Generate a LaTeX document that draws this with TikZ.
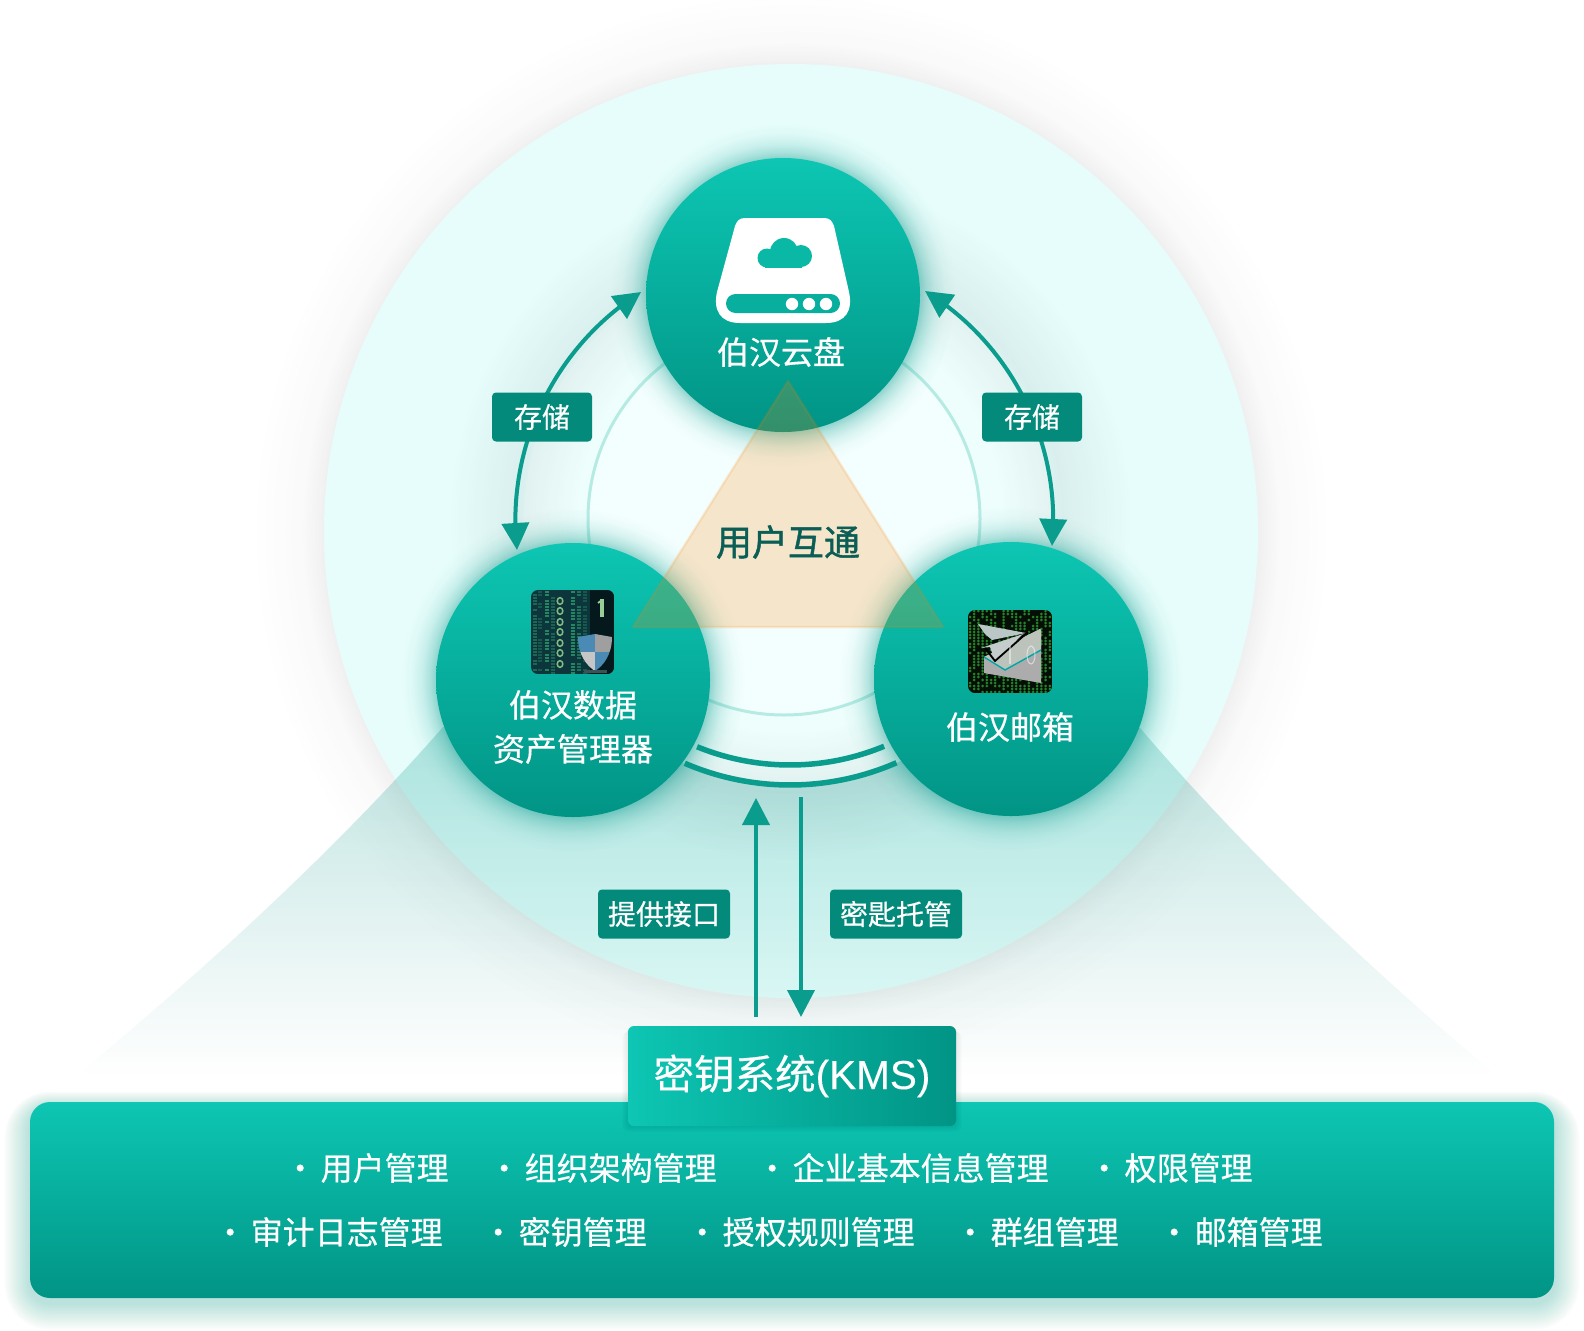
\documentclass[tikz,border=0pt]{standalone}
\usepackage{fontspec}
\setmainfont[FakeBold=0.45]{Noto Sans CJK SC}
\newfontfamily\titlefont[FakeBold=1.3]{Noto Sans CJK SC}
\newfontfamily\latinfont[FakeBold=0.15]{Liberation Sans}
\usetikzlibrary{fadings,arrows.meta,bending}
\definecolor{tealtop}{HTML}{0DC6B3}
\definecolor{tealbot}{HTML}{019485}
\definecolor{tealline}{HTML}{0A9C8C}
\definecolor{labelfill}{HTML}{038A7A}
\definecolor{bigfill}{HTML}{E6FDFB}
\definecolor{innerfill}{HTML}{F3FFFE}
\definecolor{innerline}{HTML}{B6EBE4}
\definecolor{titletext}{HTML}{0B5E55}
\definecolor{conefill}{HTML}{009688}
\definecolor{iconA}{HTML}{0C363C}
\definecolor{iconB}{HTML}{060F06}
\definecolor{matrixg}{HTML}{24802A}
\newcommand\fsz[1]{\fontsize{#1}{#1}\selectfont}
\pgfdeclareradialshading{haloshade}{\pgfpointorigin}{color(0bp)=(pgftransparent!100); color(21.7bp)=(pgftransparent!92); color(22.6bp)=(pgftransparent!97); color(24bp)=(pgftransparent!99); color(25bp)=(pgftransparent!100); color(50bp)=(pgftransparent!100)}
\pgfdeclarefading{halofade}{\pgfuseshading{haloshade}}
\pgfdeclareradialshading{glowshade}{\pgfpointorigin}{color(0bp)=(pgftransparent!100); color(19.5bp)=(pgftransparent!55); color(20.7bp)=(pgftransparent!74); color(22bp)=(pgftransparent!88); color(23.5bp)=(pgftransparent!97); color(25bp)=(pgftransparent!100); color(50bp)=(pgftransparent!100)}
\pgfdeclarefading{glowfade}{\pgfuseshading{glowshade}}
\pgfdeclareradialshading{ringshade}{\pgfpointorigin}{color(0bp)=(pgftransparent!100); color(15.5bp)=(pgftransparent!100); color(20bp)=(pgftransparent!93); color(25bp)=(pgftransparent!100); color(50bp)=(pgftransparent!100)}
\pgfdeclarefading{ringfade}{\pgfuseshading{ringshade}}
\tikzfading[name=conefade, top color=transparent!75, bottom color=transparent!100]
\tikzset{
  disknode/.style={circle,inner sep=0pt,minimum size=#1},
  appnode/.style={disknode=274pt,top color=tealtop,bottom color=tealbot},
  tagnode/.style={rectangle,rounded corners=4pt,fill=labelfill,text=white,inner sep=0pt,font=\fsz{28},minimum height=49pt},
  apptext/.style={text=white,font=\fsz{32},inner sep=0pt,align=center},
  itemtext/.style={text=white,font=\fsz{32},inner sep=0pt,anchor=west},
  flowline/.style={draw=tealline,line width=4pt},
  bighead/.style={-{Triangle[length=27pt,width=27pt]}},
  bothhead/.style={{Triangle[length=27pt,width=27pt]}-{Triangle[length=27pt,width=27pt]}},
}
\newcommand\itemat[3]{\node[itemtext] (#1) at #2 {\hbox to 0pt{\hss\makebox[32pt][c]{·}\hss}\hspace{20.5pt}#3};}
\begin{document}
\begin{tikzpicture}[x=1pt,y=-1pt]
\useasboundingbox (0,0) rectangle (1584,1330);
\fill[white] (0,0) rectangle (1584,1330);

% halo and big circle
\fill[black!70,path fading=halofade] (791,531) circle[radius=537];
\node[disknode=934pt,fill=bigfill] (big) at (791,531) {};

% cone
\begin{scope}
\clip (443,727) .. controls (340,845) and (210,965) .. (83,1070) -- (83,1078) -- (1490,1078) -- (1490,1070) .. controls (1360,960) and (1240,845) .. (1140,728) -- cycle;
\fill[conefill,path fading=conefade] (0,727) rectangle (1584,1075);
\end{scope}

% central disc with soft ring
\node[disknode=532pt,fill=bigfill!70!white] (disc) at (790,519) {};
\fill[black!75,path fading=ringfade] (790,519) circle[radius=340];
\node[disknode=392pt,fill=innerfill,draw=innerline,line width=3pt] (inner) at (784,519) {};

% bottom double arc
\draw[tealline,line width=5.5pt] plot[domain=-22.2:22.5,samples=40] ({790+246*sin(\x)},{519+246*cos(\x)});
\draw[tealline,line width=5.5pt] plot[domain=-23.3:23.6,samples=40] ({790+266*sin(\x)},{519+266*cos(\x)});

% node glows
\fill[conefill,path fading=glowfade] (783,295) circle[radius=172];
\fill[conefill,path fading=glowfade] (573,680) circle[radius=172];
\fill[conefill,path fading=glowfade] (1011,679) circle[radius=172];

% connector end points
\coordinate (la) at (641,292);
\coordinate (lb) at (517,550);
\coordinate (ra) at (925,291);
\coordinate (rb) at (1052,546);
\coordinate (ua) at (756,1017);
\coordinate (ub) at (756,798);
\coordinate (da) at (801,797);
\coordinate (db) at (801,1017);

\draw[flowline,bothhead] (la) to[bend right=32,looseness=.92] (lb);
\draw[flowline,bothhead] (ra) to[bend left=32,looseness=.92] (rb);
\draw[flowline,bighead] (ua) -- (ub);
\draw[flowline,bighead] (da) -- (db);

\node[tagnode,minimum width=100pt] (tagl) at (542,417) {存储};
\node[tagnode,minimum width=100pt] (tagr) at (1032,417) {存储};
\node[tagnode,minimum width=132pt] (tagu) at (664,914) {提供接口};
\node[tagnode,minimum width=132pt] (tagd) at (896,914) {密匙托管};

% three app nodes
\node[appnode] (ntop) at (783,295) {};
\node[appnode] (nleft) at (573,680) {};
\node[appnode] (nright) at (1011,679) {};

% drive icon
\fill[white] (745,218) -- (824,218) .. controls (830,218) and (832,221) .. (834,226) -- (849,292) .. controls (853,310) and (846,323) .. (826,323) -- (740,323) .. controls (720,323) and (713,310) .. (717,292) -- (735,226) .. controls (737,221) and (739,218) .. (745,218) -- cycle;
\fill[tealtop!55!tealbot,rounded corners=9.5pt] (726,294) rectangle (840,313);
\foreach \dx in {792,809,826} \fill[white] (\dx,304) circle[radius=6.2];
\fill[tealtop!72!tealbot] (784,252) circle[radius=14];
\fill[tealtop!72!tealbot] (767,258) circle[radius=9.5];
\fill[tealtop!72!tealbot] (801,256) circle[radius=11];
\fill[tealtop!72!tealbot] (765,255) rectangle (802,267.5);

% left icon
\begin{scope}
\clip[rounded corners=7pt] (531,590) rectangle (614,674);
\fill[iconA] (531,590) rectangle (614,674);
\fill[black!55!iconA] (590,590) rectangle (614,674);
\pgfmathsetseed{7}
\foreach \cx/\cc in {535/25,540/18,547/40,553/22,573/40,579/30,585/18}{
  \foreach \cy in {591,594,...,672}{
    \pgfmathparse{rnd}
    \ifdim\pgfmathresult pt<0.75pt
      \fill[green!55!cyan!70!white,opacity=.\cc] (\cx-2,\cy) rectangle (\cx+2,\cy+2.4);
    \fi
  }
}
\foreach \cy in {601,611,622,632,643,653,664}{
  \draw[green!30!gray!75!white,line width=1.5pt] (560,\cy) ellipse[x radius=2.8,y radius=3.4];
}
\draw[green!35!gray!60!white,line width=3.2pt] (602,599) -- (602,617);
\draw[green!35!gray!60!white,line width=1.8pt] (598,603) -- (602,600);
\begin{scope}
\clip (578,637) -- (595,634) -- (612,637) .. controls (612,655) and (603,666) .. (595,671) .. controls (587,666) and (578,655) .. (578,637) -- cycle;
\fill[blue!40!cyan!42!gray] (578,634) rectangle (595,652);
\fill[gray!75!white] (595,634) rectangle (612,652);
\fill[gray!45!white] (578,652) rectangle (595,671);
\fill[blue!40!cyan!42!gray] (595,652) rectangle (612,671);
\end{scope}
\fill[iconA!60!gray] (584,670) rectangle (607,673);
\end{scope}

% right icon
\begin{scope}
\clip[rounded corners=7pt] (968,610) rectangle (1052,693);
\fill[iconB] (968,610) rectangle (1052,693);
\pgfmathsetseed{11}
\foreach \cx in {970,974.2,...,1052}{
  \foreach \cy in {611,614,...,693}{
    \pgfmathparse{rnd}
    \ifdim\pgfmathresult pt<0.62pt
      \fill[matrixg] (\cx,\cy) circle[radius=1.5];
    \fi
  }
}
\fill[gray!65!white] (984,657) -- (1040,629) .. controls (1041,629) and (1041,630) .. (1041,631) -- (1041,683) -- (984,673) -- cycle;
\fill[green!6!gray!50!white] (984,657) -- (1005,670) -- (1041,650) -- (1041,631) -- (1040,629) -- cycle;
\fill[teal!18!gray!45!white] (978,624) -- (1026,633) -- (992,640) -- (985,634) -- cycle;
\fill[teal!15!gray!40!white] (981,648) -- (1023,634) -- (995,661) -- (990,647) -- cycle;
\draw[black,line width=1.8pt] (985,648) -- (995,661) -- (1028,632);
\draw[teal!70!cyan,line width=1.4pt] (984,657) -- (1005,670) -- (1041,650);
\draw[white,opacity=.55,line width=1pt] (1031,655) ellipse[x radius=4,y radius=9];
\draw[white,opacity=.45,line width=1.2pt] (1010,646) -- (1010,664);
\end{scope}

% orange triangle
\coordinate (tria) at (788,381);
\coordinate (trib) at (633,627);
\coordinate (tric) at (943,627);
\fill[orange,opacity=.2] (tria) -- (trib) -- (tric) -- cycle;
\draw[orange,opacity=.15,line width=2.5pt,line join=round] (tria) -- (trib) -- (tric) -- cycle;

% node texts
\node[apptext] (ttop) at (781,352) {伯汉云盘};
\node[apptext,font=\fontsize{32}{44}\selectfont] (tleft) at (573,727) {伯汉数据\\资产管理器};
\node[apptext] (tright) at (1010,727) {伯汉邮箱};
\node[text=titletext,font=\fsz{36}\titlefont,inner sep=0pt] (ttitle) at (788,542) {用户互通};

% bottom bar shadow
\foreach \i in {1,...,14}{
  \fill[conefill,opacity=.02,rounded corners=20pt+\i*1.8pt] (30-\i*1.8,1102-\i*1.1+5) rectangle (1554+\i*1.8,1298+\i*1.9+5);
}
\node[rectangle,rounded corners=20pt,minimum width=1524pt,minimum height=196pt,inner sep=0pt,top color=tealtop,bottom color=tealbot] (bar) at (792,1200) {};
\foreach \i in {1,...,6}{
  \fill[black,opacity=.012,rounded corners=6pt] (628-\i,1026+\i) rectangle (956+\i,1126+\i);
}
\node[rectangle,rounded corners=6pt,minimum width=328pt,minimum height=100pt,inner sep=0pt,left color=tealtop,right color=tealbot,text=white,font=\fsz{40.5}] (kms) at (792,1076) {\raisebox{-1.5pt}{密钥系统{\latinfont(KMS)}}};

% items
\itemat{a1}{(300,1168)}{用户管理}
\itemat{a2}{(504,1168)}{组织架构管理}
\itemat{a3}{(772,1168)}{企业基本信息管理}
\itemat{a4}{(1104,1168)}{权限管理}
\itemat{b1}{(230,1232)}{审计日志管理}
\itemat{b2}{(498,1232)}{密钥管理}
\itemat{b3}{(702,1232)}{授权规则管理}
\itemat{b4}{(970,1232)}{群组管理}
\itemat{b5}{(1174,1232)}{邮箱管理}
\end{tikzpicture}
\end{document}
